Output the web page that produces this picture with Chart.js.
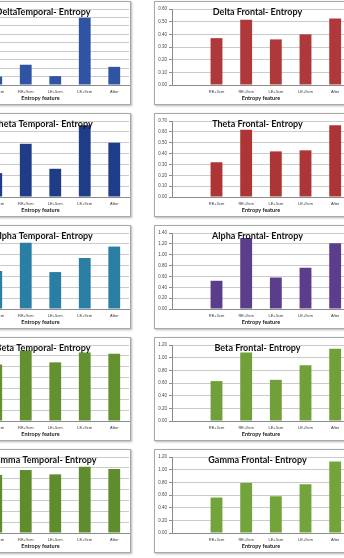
<!DOCTYPE html>
<html><head><meta charset="utf-8">
<script src="https://cdn.jsdelivr.net/npm/chart.js@4"></script>
<style>
html,body{margin:0;padding:0;background:#fff;width:344px;height:558px;overflow:hidden;position:relative}
.p{position:absolute;border:1px solid #a8a8a8;box-shadow:1px 1px 2px rgba(0,0,0,0.3);background:#fff;box-sizing:border-box}
canvas{position:absolute;display:block}
</style></head>
<body>
<script>
// ---- data ----
const categories = ['RE+5cm', 'RE+9cm', 'LE+5cm', 'LE+9cm', 'After'];
const deltaTemporal = [0.10, 0.24, 0.105, 0.795, 0.215];
const thetaTemporal = [0.22, 0.49, 0.26, 0.66, 0.50];
const alphaTemporal = [0.70, 1.22, 0.68, 0.94, 1.15];
const betaTemporal  = [1.04, 1.30, 1.08, 1.26, 1.24];
const gammaTemporal = [1.07, 1.16, 1.08, 1.22, 1.18];
const deltaFrontal  = [0.37, 0.515, 0.36, 0.40, 0.525];
const thetaFrontal  = [0.32, 0.62, 0.42, 0.43, 0.66];
const alphaFrontal  = [0.52, 1.31, 0.58, 0.76, 1.21];
const betaFrontal   = [0.63, 1.08, 0.65, 0.88, 1.14];
const gammaFrontal  = [0.56, 0.79, 0.58, 0.77, 1.13];
const temporalTicks = { delta: [0.9, 0.1], theta: [0.7, 0.1], alpha: [1.4, 0.2], beta: [1.4, 0.2], gamma: [1.4, 0.2] };
const frontalTicks  = { delta: [0.6, 0.1], theta: [0.7, 0.1], alpha: [1.4, 0.2], beta: [1.2, 0.2], gamma: [1.2, 0.2] };
const xTitle = 'Entropy feature';

const titlePlugin = {
  id: 'ptitle',
  afterDraw(chart, args, o) {
    const ctx = chart.ctx;
    ctx.save();
    ctx.font = 'bold 9px Lato';
    ctx.fillStyle = '#111';
    ctx.textAlign = 'center';
    ctx.textBaseline = 'middle';
    ctx.fillText(o.text, chart.width / 2 + o.dx, o.y);
    ctx.restore();
  }
};

function panel(left, top, w, h, title, labels, data, color, yMax, yStep, yW, rPad, tdx) {
  const d = document.createElement('div');
  d.className = 'p';
  Object.assign(d.style, {left: left + 'px', top: top + 'px', width: w + 'px', height: h + 'px'});
  document.body.appendChild(d);
  const c = document.createElement('canvas');
  c.width = w; c.height = h;
  Object.assign(c.style, {left: left + 'px', top: top + 'px', width: w + 'px', height: h + 'px'});
  document.body.appendChild(c);
  new Chart(c, {
    type: 'bar',
    data: { labels: labels, datasets: [{ data: data, backgroundColor: color, barPercentage: 0.4, categoryPercentage: 1 }] },
    plugins: [titlePlugin],
    options: {
      responsive: false, animation: false, devicePixelRatio: 1,
      layout: { padding: { top: 8, right: rPad, left: 0, bottom: 0 } },
      plugins: { legend: { display: false }, tooltip: { enabled: false }, ptitle: { text: title, y: 11, dx: tdx } },
      scales: {
        x: {
          grid: { display: false, drawTicks: false },
          border: { display: true, color: '#8c8c8c' },
          ticks: { font: { size: 4, family: 'Liberation Sans' }, color: '#333', maxRotation: 0, autoSkip: false, padding: 4 },
          title: { display: true, text: xTitle, font: { size: 5.5, weight: 'bold', family: 'Lato' }, color: '#222', padding: { top: 2, bottom: 3 } },
          afterFit: s => { s.height = 20; }
        },
        y: {
          min: 0, max: yMax,
          ticks: { stepSize: yStep, callback: v => v.toFixed(2), font: { size: 4.5, family: 'Liberation Sans' }, color: '#444', padding: 2 },
          grid: { color: '#cbcbcb', tickLength: 3, tickColor: '#8c8c8c' },
          border: { display: true, color: '#8c8c8c' },
          afterFit: s => { s.width = yW; }
        }
      }
    }
  });
}

const rows = [1, 113, 225, 337, 449];
const H = 104;
const cats = [''].concat(categories);
const pad = arr => [null].concat(arr);

panel(-66, rows[0], 197, H, 'DeltaTemporal- Entropy', cats, pad(deltaTemporal), '#2F54A3', temporalTicks.delta[0], temporalTicks.delta[1], 18, 2, 10.5);
panel(-66, rows[1], 197, H, 'Theta Temporal- Entropy', cats, pad(thetaTemporal), '#1F3C88', temporalTicks.theta[0], temporalTicks.theta[1], 18, 2, 10.5);
panel(-66, rows[2], 197, H, 'Alpha Temporal- Entropy', cats, pad(alphaTemporal), '#2A7EA4', temporalTicks.alpha[0], temporalTicks.alpha[1], 18, 2, 10.5);
panel(-66, rows[3], 197, H, 'Beta Temporal- Entropy', cats, pad(betaTemporal), '#64912F', temporalTicks.beta[0], temporalTicks.beta[1], 18, 2, 10.5);
panel(-66, rows[4], 197, H, 'Gamma Temporal- Entropy', cats, pad(gammaTemporal), '#5F8D2E', temporalTicks.gamma[0], temporalTicks.gamma[1], 18, 2, 10.5);

panel(154, rows[0], 207, H, 'Delta Frontal- Entropy', cats, pad(deltaFrontal), '#AF383A', frontalTicks.delta[0], frontalTicks.delta[1], 18, 11, 0);
panel(154, rows[1], 207, H, 'Theta Frontal- Entropy', cats, pad(thetaFrontal), '#AD3536', frontalTicks.theta[0], frontalTicks.theta[1], 18, 11, 0);
panel(154, rows[2], 207, H, 'Alpha Frontal- Entropy', cats, pad(alphaFrontal), '#5A3E8B', frontalTicks.alpha[0], frontalTicks.alpha[1], 18, 11, 0);
panel(154, rows[3], 207, H, 'Beta Frontal- Entropy', cats, pad(betaFrontal), '#71A03B', frontalTicks.beta[0], frontalTicks.beta[1], 18, 11, 0);
panel(154, rows[4], 207, H, 'Gamma Frontal- Entropy', cats, pad(gammaFrontal), '#73A43C', frontalTicks.gamma[0], frontalTicks.gamma[1], 18, 11, 0);
</script>
</body></html>
